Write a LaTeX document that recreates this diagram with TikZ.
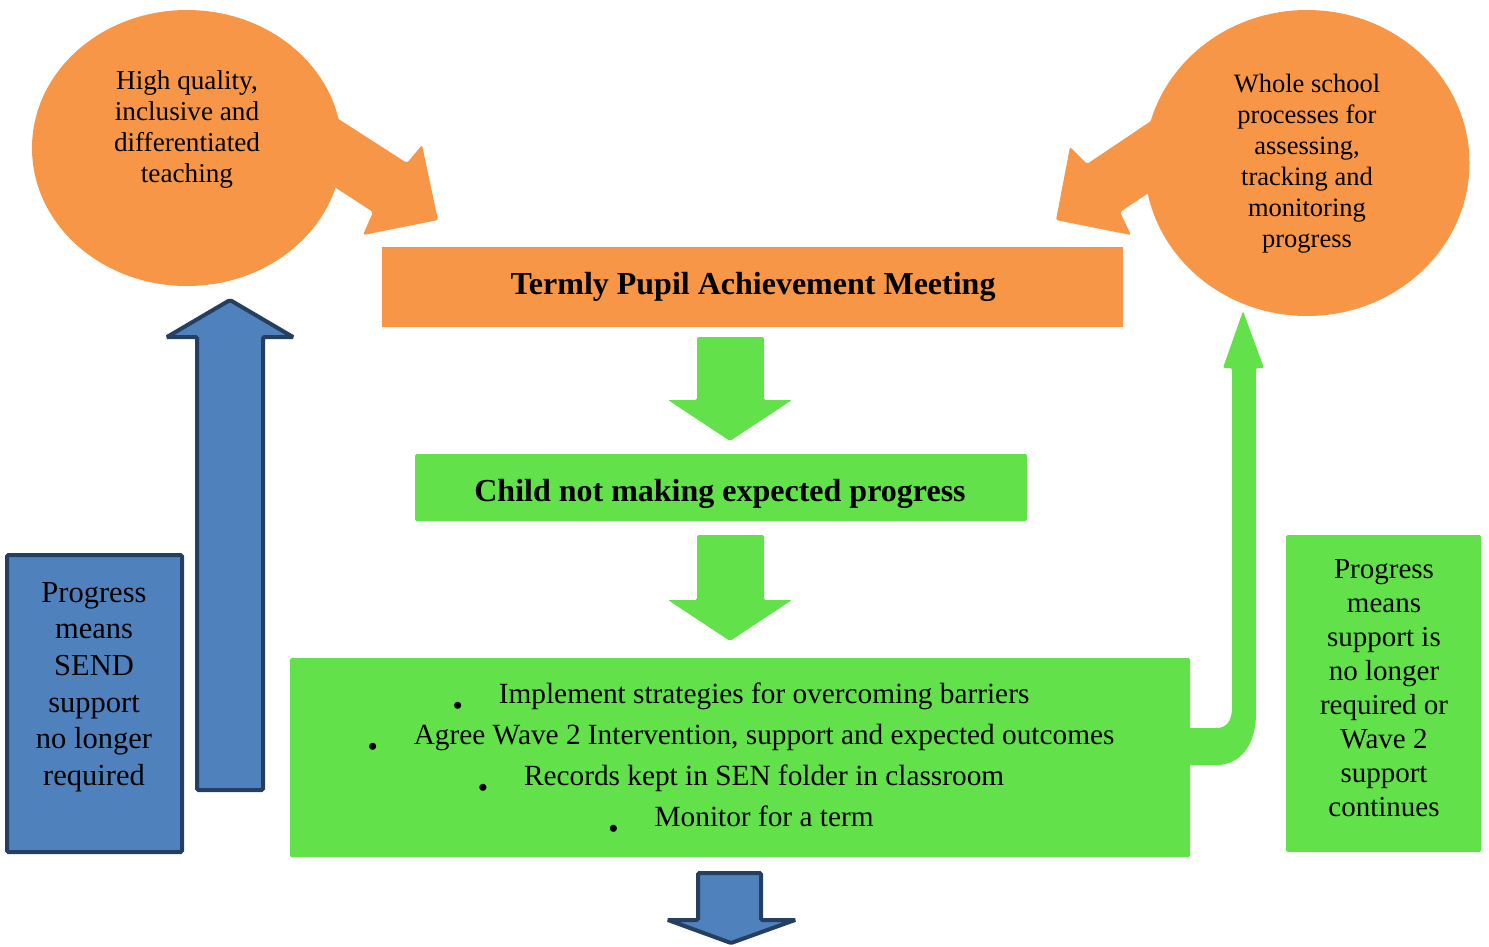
\documentclass[tikz,border=0pt]{standalone}
\usepackage{fontspec}
\setmainfont{Liberation Serif}
\usetikzlibrary{shapes.geometric}
\definecolor{orng}{HTML}{F79646}
\definecolor{grn}{HTML}{62E14A}
\definecolor{blu}{HTML}{4F81BD}
\definecolor{navy}{HTML}{243F60}
\newcommand\myfs[2]{\fontsize{#1}{#2}\selectfont}
\newcommand\lowbul{\raisebox{-0.42em}{\textbullet}\hspace{36pt}}
\begin{document}
\begin{tikzpicture}[x=1pt,y=-1pt,
  obox/.style={rectangle, fill=orng, inner sep=0pt},
  gbox/.style={rectangle, fill=grn, inner sep=0pt, rounded corners=1.5pt},
  bbox/.style={rectangle, fill=blu, draw=navy, line width=4pt, inner sep=0pt, rounded corners=1.5pt},
  oval/.style={ellipse, fill=orng, inner sep=0pt},
  txt/.style={align=center, inner sep=0pt, text=black},
  garrow/.style={fill=grn, rounded corners=2pt},
  oarrow/.style={fill=orng, rounded corners=2pt},
  barrow/.style={fill=blu, draw=navy, line width=4pt, rounded corners=1.5pt}]
\useasboundingbox (0,0) rectangle (1489,946);

% left callout
\fill[oarrow] (273,77) -- (407,163) -- (422,145) -- (438,220) -- (363,235) -- (373,212) -- (270,145) -- cycle;
\node[oval, minimum width=310pt, minimum height=276pt] (c1) at (187,148) {};
\node[txt, font=\myfs{27.2}{31}] (t1) at (187,129) {High quality,\\inclusive and\\differentiated\\teaching};

% right callout
\fill[oarrow] (1209,82) -- (1087,164) -- (1070,147) -- (1056,220) -- (1131,235) -- (1120,212) -- (1207,154) -- cycle;
\node[oval, minimum width=325pt, minimum height=306pt] (c2) at (1307,163) {};
\node[txt, font=\myfs{26.5}{31}] (t2) at (1307,164) {Whole school\\processes for\\assessing,\\tracking and\\monitoring\\progress};

% meeting box
\node[obox, minimum width=741pt, minimum height=80pt] (m1) at (752.5,287) {};
\node[txt, font=\bfseries\myfs{32}{36}] (m1t) at (753,287) {Termly Pupil Achievement Meeting};

% green arrows down
\fill[garrow] (697,337) -- (764,337) -- (764,400) -- (792,400) -- (730,441) -- (668,400) -- (697,400) -- cycle;
\node[gbox, minimum width=612pt, minimum height=67pt] (g1) at (721,487.5) {};
\node[txt, font=\bfseries\myfs{32}{36}] (g1t) at (720,494) {Child not making expected progress};
\fill[garrow] (697,535) -- (764,535) -- (764,600) -- (792,600) -- (730,641) -- (668,600) -- (697,600) -- cycle;

% big box
\node[gbox, minimum width=900pt, minimum height=199pt] (g2) at (740,757.5) {};
\node[txt, font=\myfs{29.3}{41}] (g2t) at (741,761) {\lowbul Implement strategies for overcoming barriers\\
\lowbul Agree Wave 2 Intervention, support and expected outcomes\\
\lowbul Records kept in SEN folder in classroom\\
\lowbul Monitor for a term};

% elbow arrow up
\fill[garrow] (1185,728) -- (1214,728) .. controls (1226,728) and (1232,722) .. (1232,705) -- (1232,368) -- (1223,368) -- (1243,311) -- (1264,368) -- (1256,368) -- (1256,712) .. controls (1256,745) and (1240,765) .. (1215,765) -- (1185,765) -- cycle;

% right green box
\node[gbox, minimum width=195pt, minimum height=317pt] (g3) at (1383.5,693.5) {};
\node[txt, font=\myfs{29}{34}] (g3t) at (1384,688) {Progress\\means\\support is\\no longer\\required or\\Wave 2\\support\\continues};

% blue
\fill[barrow] (197,790) -- (197,337) -- (167,337) -- (230,300) -- (293,337) -- (263,337) -- (263,790) -- cycle;
\node[bbox, minimum width=175pt, minimum height=297pt] (b1) at (94.5,703.5) {};
\node[txt, font=\myfs{30.5}{36.6}] (b1t) at (94,687) {Progress\\means\\SEND\\support\\no longer\\required};
\fill[barrow] (698,873) -- (761,873) -- (761,920) -- (795,920) -- (731,943) -- (668,920) -- (698,920) -- cycle;
\end{tikzpicture}
\end{document}
